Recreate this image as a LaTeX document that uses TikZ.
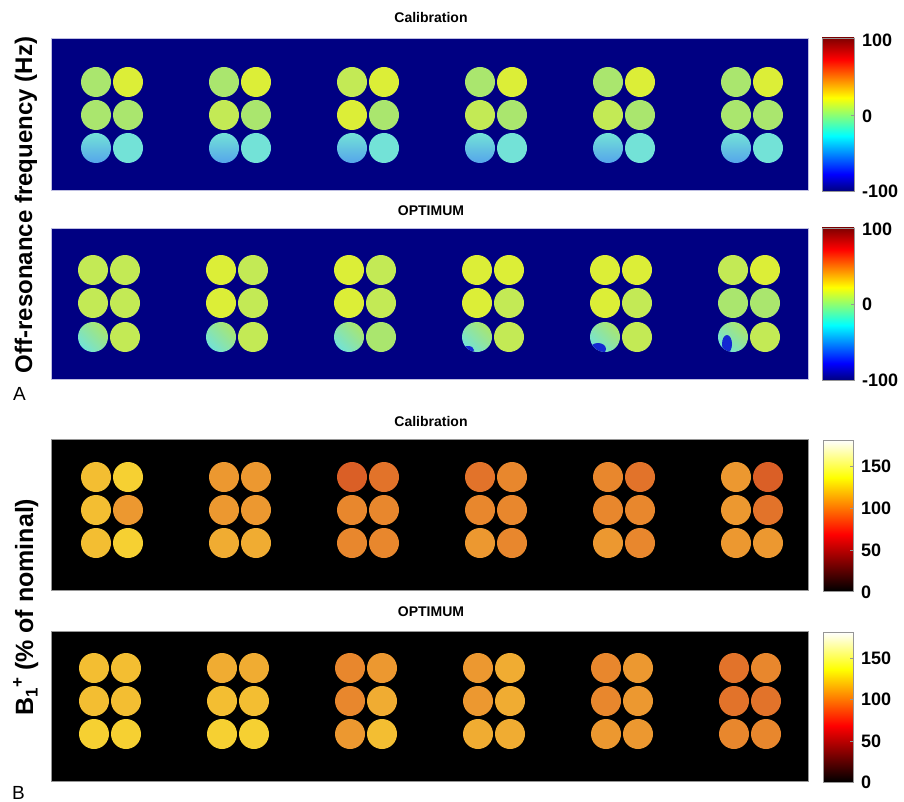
\documentclass[tikz,border=0pt]{standalone}
\usepackage{fontspec}
\setmainfont{Liberation Sans}
\usepackage{xcolor}

\definecolor{navybg}{RGB}{0,0,130}
\definecolor{frameA}{RGB}{190,190,225}
\definecolor{frameB}{RGB}{150,150,150}
\definecolor{jA}{RGB}{220,238,55}
\definecolor{jB}{RGB}{195,234,85}
\definecolor{jC}{RGB}{170,230,110}
\definecolor{jD}{RGB}{150,226,125}
\definecolor{jE}{RGB}{115,226,215}
\definecolor{jF}{RGB}{85,165,235}
\definecolor{jdeep}{RGB}{20,40,210}
\definecolor{hA}{RGB}{246,208,50}
\definecolor{hB}{RGB}{243,190,50}
\definecolor{hC}{RGB}{240,172,50}
\definecolor{hD}{RGB}{236,152,48}
\definecolor{hE}{RGB}{232,135,45}
\definecolor{hF}{RGB}{226,115,42}
\definecolor{hG}{RGB}{218,95,38}
\definecolor{jet0}{RGB}{0,0,128}
\definecolor{jet1}{RGB}{0,0,255}
\definecolor{jet2}{RGB}{0,255,255}
\definecolor{jet3}{RGB}{255,255,0}
\definecolor{jet4}{RGB}{255,0,0}
\definecolor{jet5}{RGB}{128,0,0}

\pgfdeclareverticalshading{jetbar}{100bp}{color(0bp)=(jet0); color(25bp)=(jet0);
  color(30.5bp)=(jet1); color(43bp)=(jet2); color(55.5bp)=(jet3);
  color(68bp)=(jet4); color(75bp)=(jet5); color(100bp)=(jet5)}
\pgfdeclareverticalshading{hotbar}{100bp}{color(0bp)=(black); color(25bp)=(black);
  color(43.75bp)=(red); color(62.5bp)=(yellow); color(75bp)=(white); color(100bp)=(white)}

\newcommand{\smallfig}[1]{{\fontsize{17}{18}\selectfont #1}}

\begin{document}
\begin{tikzpicture}[x=1pt,y=-1pt,
    ttl/.style={font=\bfseries\fontsize{14}{16}\selectfont},
    ylab/.style={font=\bfseries\fontsize{24}{28}\selectfont,rotate=90,anchor=base},
    ticklab/.style={font=\bfseries\fontsize{18}{20}\selectfont,anchor=west,inner sep=0pt},
    tag/.style={font=\fontsize{19}{22}\selectfont,anchor=base west,inner sep=0pt},
    mapA/.style={fill=navybg,draw=frameA,line width=0.8pt},
    mapB/.style={fill=black,draw=frameB,line width=0.8pt},
    cbar/.style={draw=frameB,line width=0.8pt}]
  \useasboundingbox[fill=white] (0,0) rectangle (904,802);

  \filldraw[mapA] (51,38) rectangle (808,190);
  \filldraw[mapA] (51,228) rectangle (808,379);
  \filldraw[mapB] (51,439) rectangle (808,590);
  \filldraw[mapB] (51,631) rectangle (808,781);

  \shadedraw[shading=jetbar,cbar] (822,38) rectangle (854,191);
  \shadedraw[shading=jetbar,cbar] (822,228) rectangle (854,380);
  \shadedraw[shading=hotbar,cbar] (823,440) rectangle (853,591);
  \shadedraw[shading=hotbar,cbar] (823,632) rectangle (853,782);
  \draw[frameB] (851,115) -- (854,115);
  \draw[frameB] (851,304) -- (854,304);
  \foreach \ty in {466,508,550,658,699,741}
    \draw[frameB] (850,\ty) -- (853,\ty);

  \foreach \gx/\ca/\cb/\cc/\cd/\ce/\cf in {112/jC/jA/jC/jC/jE/jE, 240/jC/jA/jB/jC/jE/jE,
      368/jB/jA/jA/jC/jE/jE, 496/jC/jA/jB/jC/jE/jE, 624/jC/jA/jB/jC/jE/jE,
      752/jC/jA/jC/jC/jE/jE}{
    \fill[\ca] ({\gx-16},82) circle (15pt);
    \fill[\cb] ({\gx+16},82) circle (15pt);
    \fill[\cc] ({\gx-16},115) circle (15pt);
    \fill[\cd] ({\gx+16},115) circle (15pt);
    \shade[top color=\ce,bottom color=jF] ({\gx-16},148) circle (15pt);
    \fill[\cf] ({\gx+16},148) circle (15pt);
  }

  \foreach \gx/\ca/\cb/\cc/\cd/\cf in {109/jB/jB/jB/jB/jB, 237/jA/jB/jA/jB/jB,
      365/jA/jB/jA/jB/jC, 493/jA/jA/jA/jB/jB, 621/jA/jA/jA/jB/jB,
      749/jB/jA/jC/jC/jB}{
    \fill[\ca] ({\gx-16},270) circle (15pt);
    \fill[\cb] ({\gx+16},270) circle (15pt);
    \fill[\cc] ({\gx-16},303) circle (15pt);
    \fill[\cd] ({\gx+16},303) circle (15pt);
    \shade[top color=jC,bottom color=jE,shading angle=-45] ({\gx-16},337) circle (15pt);
    \fill[\cf] ({\gx+16},337) circle (15pt);
  }
  \path[path picture={\fill[jdeep] (468,350) ellipse (6pt and 4pt);}] (477,337) circle (15pt);
  \path[path picture={\fill[jdeep] (598,349) ellipse (8pt and 6pt);}] (605,337) circle (15pt);
  \path[path picture={\fill[jdeep] (727,344) ellipse (5pt and 9pt);}] (733,337) circle (15pt);

  \foreach \gx/\ca/\cb/\cc/\cd/\ce/\cf in {112/hB/hA/hB/hD/hB/hA, 240/hD/hD/hD/hD/hC/hC,
      368/hG/hF/hE/hE/hE/hE, 496/hF/hE/hE/hE/hD/hE, 624/hE/hF/hE/hE/hD/hE,
      752/hD/hG/hD/hF/hD/hD}{
    \fill[\ca] ({\gx-16},477) circle (15pt);
    \fill[\cb] ({\gx+16},477) circle (15pt);
    \fill[\cc] ({\gx-16},510) circle (15pt);
    \fill[\cd] ({\gx+16},510) circle (15pt);
    \fill[\ce] ({\gx-16},543) circle (15pt);
    \fill[\cf] ({\gx+16},543) circle (15pt);
  }

  \foreach \gx/\ca/\cb/\cc/\cd/\ce/\cf in {110/hB/hB/hB/hB/hA/hA, 238/hC/hC/hB/hB/hA/hA,
      366/hE/hD/hE/hC/hD/hB, 494/hD/hC/hD/hC/hC/hC, 622/hE/hD/hE/hD/hD/hD,
      750/hF/hE/hF/hF/hE/hE}{
    \fill[\ca] ({\gx-16},668) circle (15pt);
    \fill[\cb] ({\gx+16},668) circle (15pt);
    \fill[\cc] ({\gx-16},701) circle (15pt);
    \fill[\cd] ({\gx+16},701) circle (15pt);
    \fill[\ce] ({\gx-16},734) circle (15pt);
    \fill[\cf] ({\gx+16},734) circle (15pt);
  }

  \node[ttl] (calA) at (431,18) {Calibration};
  \node[ttl] (optA) at (431,211) {OPTIMUM};
  \node[ttl] (calB) at (431,421) {Calibration};
  \node[ttl] (optB) at (431,612) {OPTIMUM};

  \node[ylab] (freq) at (32,205) {Off-resonance frequency (Hz)};
  \node[ylab,font=\bfseries\fontsize{25}{28}\selectfont] (bone) at (33,607)
    {B\raisebox{-0.35ex}{\smallfig{1}}\raisebox{0.75ex}{\smallfig{+}} (\% of nominal)};
  \node[tag] (tagA) at (13,400) {A};
  \node[tag] (tagB) at (12,799) {B};

  \node[ticklab] (a100) at (862,40) {100};
  \node[ticklab] (a0) at (862,116) {0};
  \node[ticklab] (am100) at (862,191) {-100};
  \node[ticklab] (b100) at (862,229) {100};
  \node[ticklab] (b0) at (862,304) {0};
  \node[ticklab] (bm100) at (862,380) {-100};
  \node[ticklab] (c150) at (861,466) {150};
  \node[ticklab] (c100) at (861,508) {100};
  \node[ticklab] (c50) at (861,550) {50};
  \node[ticklab] (c0) at (861,592) {0};
  \node[ticklab] (d150) at (861,658) {150};
  \node[ticklab] (d100) at (861,699) {100};
  \node[ticklab] (d50) at (861,741) {50};
  \node[ticklab] (d0) at (861,782) {0};
\end{tikzpicture}
\end{document}
